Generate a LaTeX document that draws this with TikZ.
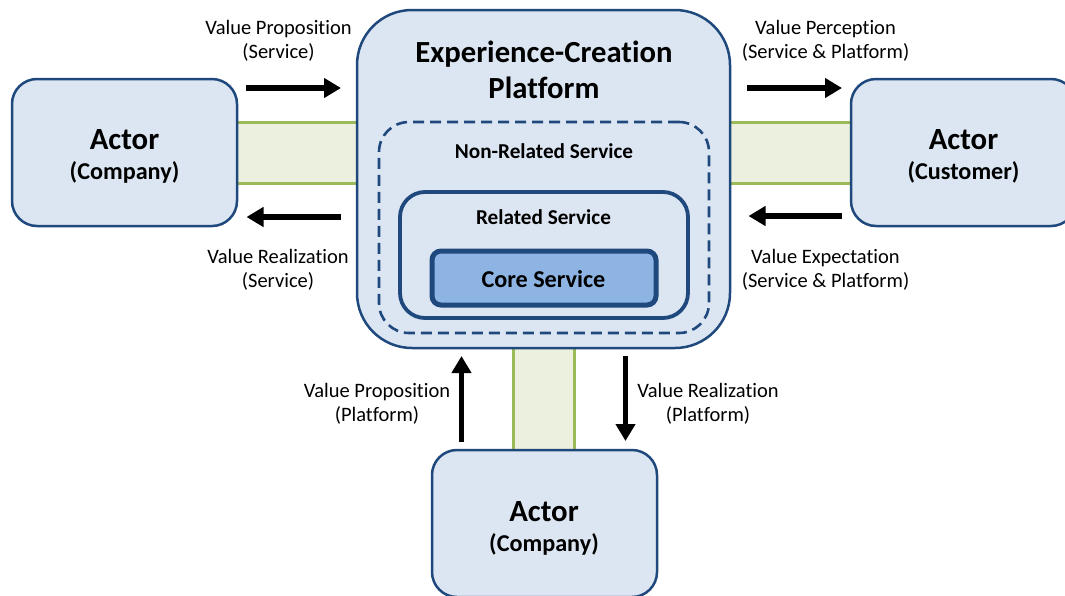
\documentclass[tikz,border=0pt]{standalone}
\usepackage{fontspec}
\setmainfont[Ligatures=NoCommon]{Carlito}
\usetikzlibrary{arrows.meta,backgrounds}
\definecolor{bluefill}{HTML}{DCE6F2}
\definecolor{coreblue}{HTML}{8EB4E3}
\definecolor{edgeblue}{HTML}{1F497D}
\definecolor{bandfill}{HTML}{EBF1DE}
\definecolor{bandline}{HTML}{9BBB59}
\tikzset{
  boxbase/.style={draw=edgeblue,fill=bluefill,rectangle,inner sep=0pt},
  actorbox/.style={boxbase,line width=2.5pt,rounded corners=25pt,minimum width=225pt,minimum height=147pt},
  mainbox/.style={boxbase,line width=2.5pt,rounded corners=55pt,minimum width=373pt,minimum height=338pt},
  nonrel/.style={boxbase,line width=2.6pt,dash pattern=on 11pt off 6pt,rounded corners=30pt,minimum width=330pt,minimum height=211pt},
  relbox/.style={boxbase,line width=3.8pt,rounded corners=25pt,minimum width=288pt,minimum height=126pt},
  corebox/.style={boxbase,fill=coreblue,line width=5pt,rounded corners=9pt,minimum width=224pt,minimum height=54pt},
  flow/.style={line width=5.5pt,black,-{Triangle[width=19pt,length=17pt]}},
  bandedge/.style={draw=bandline,line width=3pt},
  lab/.style={align=center,font=\fontsize{20.5}{24}\selectfont,inner sep=0pt},
  tbig/.style={inner sep=0pt,font=\fontsize{30.7}{36}\selectfont\bfseries,align=center},
  tactor/.style={inner sep=0pt,font=\fontsize{30.8}{32}\selectfont\bfseries},
  tsub/.style={inner sep=0pt,font=\fontsize{24.2}{28}\selectfont\bfseries},
  tnon/.style={inner sep=0pt,font=\fontsize{21.2}{24}\selectfont\bfseries},
}
\begin{document}
\begin{tikzpicture}[x=1pt,y=-1pt]
\useasboundingbox (0,0) rectangle (1065,595);
% boxes
\node[mainbox] (main) at (543.5,179) {};
\node[nonrel] (non) at (544,227.5) {};
\node[relbox] (rel) at (544,255) {};
\node[corebox] (core) at (544,278) {};
\node[actorbox] (left) at (124.5,152.5) {};
\node[actorbox] (right) at (963.5,152.5) {};
\node[actorbox] (bottom) at (544.5,523.5) {};
% bands
\coordinate (lt) at (0,122); \coordinate (lb) at (0,183);
\coordinate (bl) at (513,0); \coordinate (br) at (574.5,0);
\begin{scope}[on background layer]
\fill[bandfill] (left.east |- lt) rectangle (main.west |- lb);
\fill[bandfill] (main.east |- lt) rectangle (right.west |- lb);
\fill[bandfill] (bl |- main.south) rectangle (br |- bottom.north);
\draw[bandedge] (left.east |- lt) -- (main.west |- lt);
\draw[bandedge] (left.east |- lb) -- (main.west |- lb);
\draw[bandedge] (main.east |- lt) -- (right.west |- lt);
\draw[bandedge] (main.east |- lb) -- (right.west |- lb);
\draw[bandedge] (bl |- main.south) -- (bl |- bottom.north);
\draw[bandedge] (br |- main.south) -- (br |- bottom.north);
\end{scope}
% box texts
\node[tbig] (ttl) at (544,70) {Experience-Creation\\Platform};
\node[tnon] (tnr) at (544,151.5) {Non-Related Service};
\node[tnon] (trs) at (543.5,217) {Related Service};
\node[tsub] (tcs) at (543.5,279) {Core Service};
\node[tactor] (a1) at (124.5,139.5) {Actor};
\node[tsub] (a1s) at (124.5,172) {(Company)};
\node[tactor] (a2) at (963.5,139.5) {Actor};
\node[tsub] (a2s) at (963.5,172) {(Customer)};
\node[tactor] (a3) at (544,511.5) {Actor};
\node[tsub] (a3s) at (544,544) {(Company)};
% flows
\coordinate (f1a) at (246,88); \coordinate (f1b) at (341,88);
\coordinate (f2a) at (341,217); \coordinate (f2b) at (246.5,217);
\coordinate (f3a) at (747,88); \coordinate (f3b) at (842,88);
\coordinate (f4a) at (842,216); \coordinate (f4b) at (748.5,216);
\coordinate (f5a) at (461.5,442); \coordinate (f5b) at (461.5,356);
\coordinate (f6a) at (625.5,356); \coordinate (f6b) at (625.5,441);
\draw[flow] (f1a) -- (f1b);
\draw[flow] (f2a) -- (f2b);
\draw[flow] (f3a) -- (f3b);
\draw[flow] (f4a) -- (f4b);
\draw[flow] (f5a) -- (f5b);
\draw[flow] (f6a) -- (f6b);
% flow labels
\node[lab] (l1) at (278.5,40.7) {Value Proposition\\(Service)};
\node[lab] (l2) at (278,269.7) {Value Realization\\(Service)};
\node[lab] (l3) at (825.5,40.7) {Value Perception\\(Service \& Platform)};
\node[lab] (l4) at (825.5,269.7) {Value Expectation\\(Service \& Platform)};
\node[lab] (l5) at (377,403.7) {Value Proposition\\(Platform)};
\node[lab] (l6) at (708,403.7) {Value Realization\\(Platform)};
\end{tikzpicture}
\end{document}
